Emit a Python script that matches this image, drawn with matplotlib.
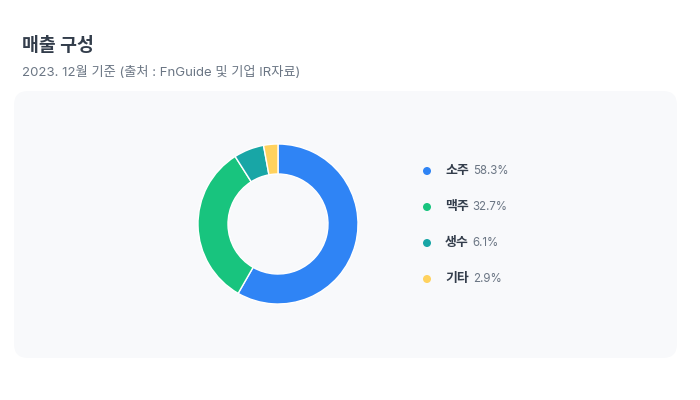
import matplotlib
matplotlib.use("Agg")
import matplotlib.pyplot as plt
from matplotlib.patches import FancyBboxPatch, Ellipse

plt.rcParams['font.family'] = ['Inter', 'Noto Sans CJK KR', 'DejaVu Sans']

title = "매출 구성"
subtitle = "2023. 12월 기준 (출처 : FnGuide 및 기업 IR자료)"
categories = ["소주", "맥주", "생수", "기타"]
values = [58.3, 32.7, 6.1, 2.9]
value_labels = ["58.3%", "32.7%", "6.1%", "2.9%"]
colors = ["#2f84f5", "#18c47e", "#18a6a6", "#ffd25e"]

W, H = 700, 400
fig = plt.figure(figsize=(7, 4), dpi=100)
fig.patch.set_facecolor("white")

def fx(x):
    return x / W

def fy(y):
    return 1 - y / H

# panel
panel = FancyBboxPatch((fx(14), fy(358)), fx(677 - 14), (358 - 91) / H,
                       boxstyle="round,pad=0,rounding_size=0.02",
                       transform=fig.transFigure, facecolor="#f8f9fb",
                       edgecolor="none", mutation_aspect=W / H, zorder=-5)
fig.patches.append(panel)

fig.text(fx(22), fy(46), title, fontsize=13.2, fontweight="bold",
         color="#333d4b", va="center", ha="left")
fig.text(fx(22), fy(73), subtitle, fontsize=9.5, color="#6b7684",
         va="center", ha="left")

cx, cy, r = 278, 224, 80
ax = fig.add_axes([fx(cx - r), fy(cy + r), 2 * r / W, 2 * r / H], zorder=5)
ax.patch.set_alpha(0)
ax.pie(values, colors=colors, startangle=90, counterclock=False, radius=1,
       wedgeprops=dict(width=0.375, edgecolor="white", linewidth=1))
ax.set_xlim(-1.0, 1.0)
ax.set_ylim(-1.0, 1.0)
ax.set_aspect("auto")
ax.axis("off")

fig.canvas.draw()
renderer = fig.canvas.get_renderer()
row_y = [171, 207, 243, 279]
for cat, vl, col, y in zip(categories, value_labels, colors, row_y):
    fig.patches.append(Ellipse((fx(427), fy(y)), 8 / W, 8 / H,
                               transform=fig.transFigure,
                               facecolor=col, edgecolor="none", zorder=6))
    t = fig.text(fx(445), fy(y), cat, fontsize=9.3, fontweight="bold",
                 color="#333d4b", va="center", ha="left")
    bb = t.get_window_extent(renderer)
    fig.text(bb.x1 / W + fx(4), fy(y), vl, fontsize=8.3, color="#6b7684",
             va="center", ha="left")

fig.savefig("out.png", dpi=100)
